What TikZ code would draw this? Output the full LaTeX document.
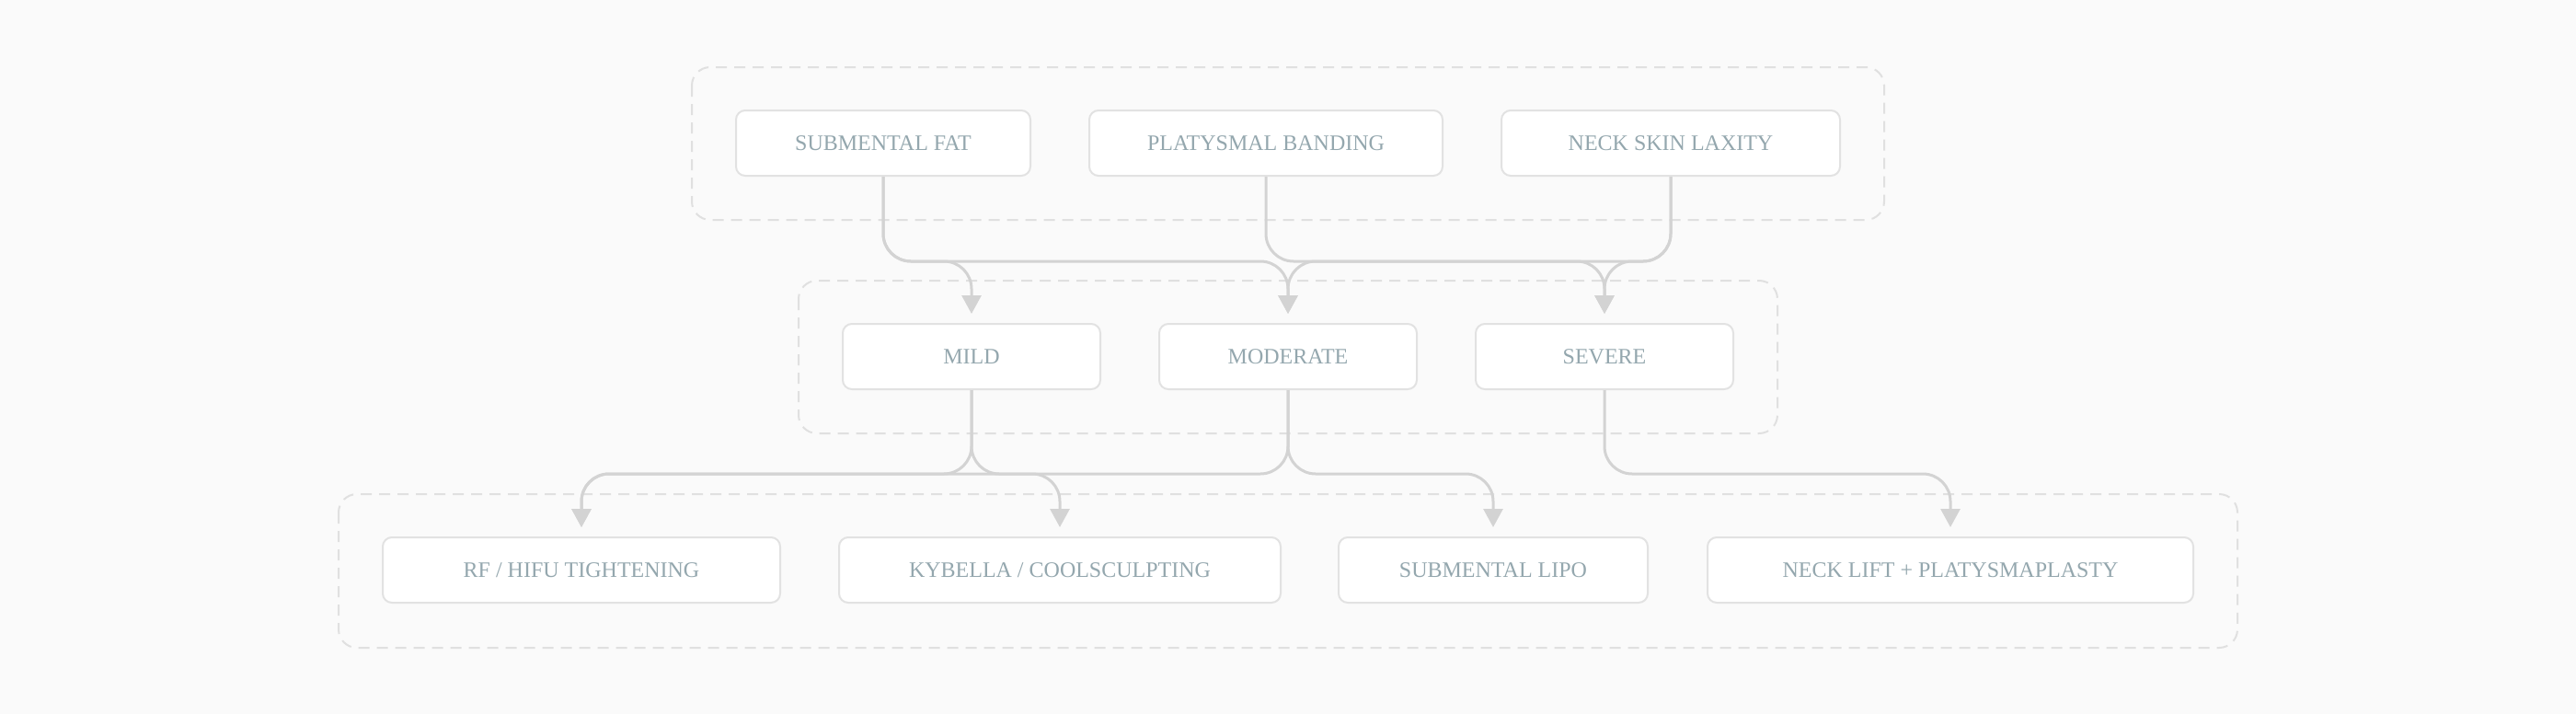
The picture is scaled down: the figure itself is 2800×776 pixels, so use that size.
\documentclass[tikz,border=0pt]{standalone}
\usepackage{fontspec}
\setmainfont{Liberation Serif}
\usetikzlibrary{arrows.meta}

\definecolor{bgcol}{HTML}{FAFAFA}
\definecolor{boxline}{HTML}{E2E2E2}
\definecolor{groupline}{HTML}{E0E0E0}
\definecolor{linkcol}{HTML}{D3D3D3}
\definecolor{labeltext}{HTML}{94A7AE}

\begin{document}
\begin{tikzpicture}
  [x=0.5pt,y=-0.5pt,
   box/.style={draw=boxline,line width=1pt,fill=white,rounded corners=5pt,
     minimum height=35.5pt,text=labeltext,font=\fontsize{12}{14}\selectfont},
   group/.style={draw=groupline,line width=1pt,dash pattern=on 6pt off 4pt,
     rounded corners=10pt},
   link/.style={draw=linkcol,line width=1.5pt,rounded corners=15pt,
     -{Triangle[length=10pt,width=10.5pt]},shorten >=5pt}]

  \fill[bgcol] (0,0) rectangle (2800,776);
  \useasboundingbox (0,0) rectangle (2800,776);

  % groups
  \draw[group] (752,73) rectangle (2048,239);
  \draw[group] (868,305) rectangle (1932,471);
  \draw[group] (368,537) rectangle (2432,704);

  % findings
  \node[box,minimum width=160pt] (fat) at (960,155.5) {SUBMENTAL FAT};
  \node[box,minimum width=192pt] (platysmal) at (1376,155.5) {PLATYSMAL BANDING};
  \node[box,minimum width=184pt] (laxity) at (1816,155.5) {NECK SKIN LAXITY};

  % grades
  \node[box,minimum width=140pt] (mild) at (1056,387.5) {MILD};
  \node[box,minimum width=140pt] (moderate) at (1400,387.5) {MODERATE};
  \node[box,minimum width=140pt] (severe) at (1744,387.5) {SEVERE};

  % treatments
  \node[box,minimum width=216pt] (rf) at (632,619.5) {RF / HIFU TIGHTENING};
  \node[box,minimum width=240pt] (kybella) at (1152,619.5) {KYBELLA / COOLSCULPTING};
  \node[box,minimum width=168pt] (lipo) at (1623,619.5) {SUBMENTAL LIPO};
  \node[box,minimum width=264pt] (necklift) at (2120,619.5) {NECK LIFT + PLATYSMAPLASTY};

  \coordinate (busA) at (0,284);
  \coordinate (busB) at (0,515);

  \foreach \from/\to in {fat/mild, fat/moderate, platysmal/severe, laxity/moderate, laxity/severe}
    \draw[link] (\from.south) -- (\from.south |- busA) -- (\to.north |- busA) -- (\to.north);

  \foreach \from/\to in {mild/rf, mild/kybella, moderate/rf, moderate/lipo, severe/necklift}
    \draw[link] (\from.south) -- (\from.south |- busB) -- (\to.north |- busB) -- (\to.north);

\end{tikzpicture}
\end{document}
